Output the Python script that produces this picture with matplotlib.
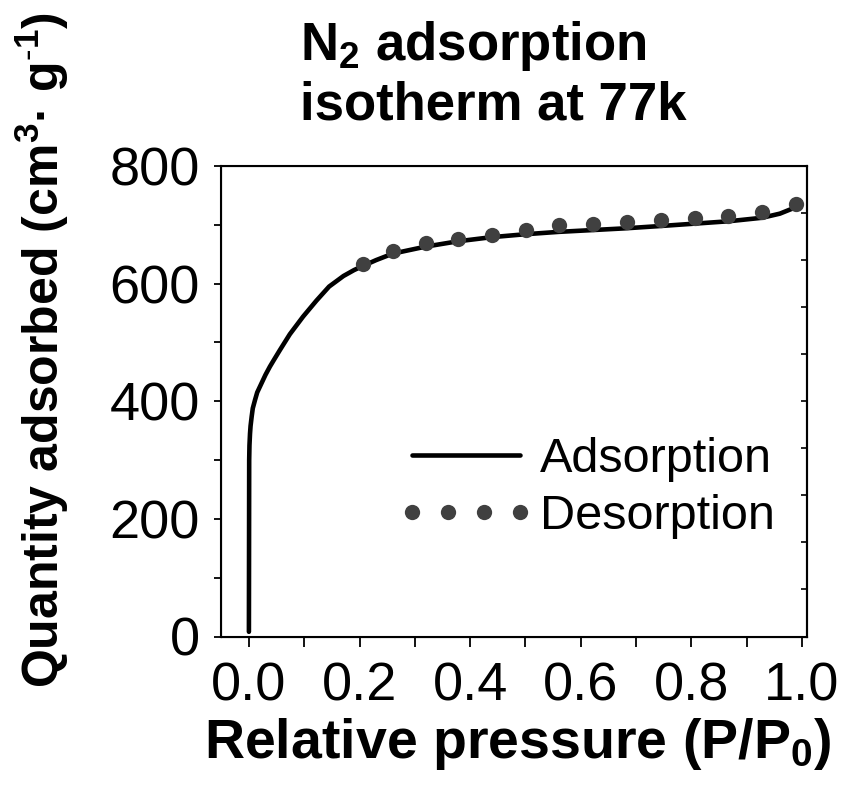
import matplotlib
matplotlib.use('Agg')
import matplotlib.pyplot as plt
from matplotlib.ticker import MultipleLocator

plt.rcParams['font.family'] = ['Liberation Sans', 'DejaVu Sans']
plt.rcParams['mathtext.fontset'] = 'custom'
plt.rcParams['mathtext.rm'] = 'Liberation Sans'
plt.rcParams['mathtext.bf'] = 'Liberation Sans:bold'
plt.rcParams['mathtext.default'] = 'bf'

# adsorption branch
ads_p = [0.0, 0.0005, 0.001, 0.002, 0.003, 0.005, 0.007, 0.011, 0.015, 0.023,
         0.03, 0.038, 0.045, 0.056, 0.074, 0.098, 0.122, 0.145, 0.171, 0.19,
         0.206, 0.23, 0.26, 0.32, 0.378, 0.439, 0.5, 0.56, 0.62, 0.68,
         0.745, 0.806, 0.867, 0.928, 0.96, 0.989]
ads_q = [8, 300, 325, 345, 358, 374, 388, 402, 415, 431,
         445, 459, 470, 487, 514, 544, 571, 595, 613, 623,
         630, 640, 651, 663, 672, 679, 684, 688, 691, 694,
         698, 702, 706, 712, 719, 730]

# desorption branch
des_p = [0.206, 0.260, 0.320, 0.378, 0.439, 0.501, 0.561, 0.623, 0.684,
         0.745, 0.806, 0.867, 0.928, 0.989]
des_q = [633, 656, 669, 676, 682, 692, 699, 702, 705, 708, 711, 715, 721, 735]

W, H = 843, 787
fig = plt.figure(figsize=(W/100, H/100), dpi=100)
x0, x1, y0, y1 = 220.7, 807, 636.5, 166
ax = fig.add_axes([x0/W, 1-y0/H, (x1-x0)/W, (y0-y1)/H])

ax.plot(ads_p, ads_q, color='black', lw=3.3, solid_capstyle='round',
        solid_joinstyle='round', label='Adsorption', zorder=2)
ax.plot(des_p, des_q, ls='none', marker='o', ms=11, color='#404040',
        mec='none', label='Desorption', zorder=3)

ax.set_xlim(-0.051, 1.009)
ax.set_ylim(0, 800)
ax.xaxis.set_major_locator(MultipleLocator(0.2))
ax.xaxis.set_minor_locator(MultipleLocator(0.1))
ax.yaxis.set_major_locator(MultipleLocator(200))
ax.yaxis.set_minor_locator(MultipleLocator(100))
ax.xaxis.set_major_formatter(matplotlib.ticker.FormatStrFormatter('%.1f'))

for s in ax.spines.values():
    s.set_linewidth(1.5)
ax.tick_params(axis='x', which='both', direction='out', length=7, width=1.3,
               labelsize=39, pad=11, top=False)
ax.tick_params(axis='y', which='both', direction='out', length=5, width=1.3,
               labelsize=39, pad=10, right=False)

# right side ticks
ax2 = ax.twinx()
ax2.set_ylim(0, 10)
ax2.yaxis.set_major_locator(MultipleLocator(1))
ax2.tick_params(axis='y', direction='in', length=4, width=1.2, labelright=False)
ax2.spines['right'].set_linewidth(1.5)

ax.set_xlabel(r'Relative pressure (P/P$_{0}$)', fontsize=40, fontweight='bold')
ax.xaxis.set_label_coords((518-x0)/(x1-x0), (y0-716)/(y0-y1))
ax.set_ylabel(r'Quantity adsorbed (cm$^{3}$· g$^{\text{-}1}$)', fontsize=36,
              fontweight='bold', va='center')
ax.yaxis.set_label_coords((42-x0)/(x1-x0), (y0-350)/(y0-y1))

fig.text(300/W, 1-60/H, r'N$_{2}$ adsorption', fontsize=38, fontweight='bold',
         ha='left', va='baseline')
fig.text(300/W, 1-120/H, 'isotherm at 77k', fontsize=38, fontweight='bold',
         ha='left', va='baseline')

ax.legend(loc='center left', bbox_to_anchor=(397/W, 1-488/H),
          bbox_transform=fig.transFigure, frameon=False, fontsize=35,
          numpoints=4, handlelength=2.82, handletextpad=0.13,
          labelspacing=0.25, borderpad=0, borderaxespad=0)

fig.savefig('out.png', dpi=100)
